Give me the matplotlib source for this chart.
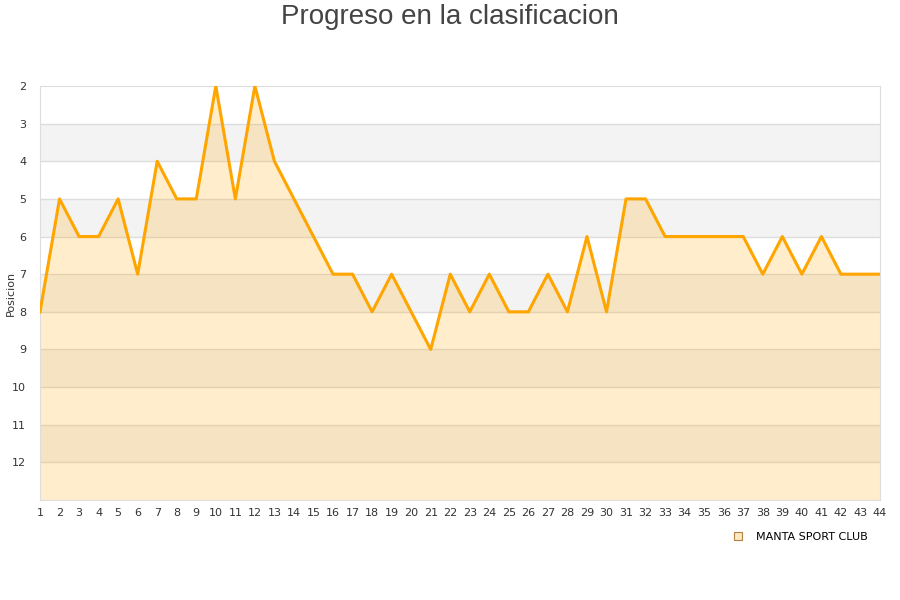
import matplotlib
matplotlib.use("Agg")
import matplotlib.pyplot as plt

jornadas = list(range(1, 45))
posiciones = [8, 5, 6, 6, 5, 7, 4, 5, 5, 2, 5, 2, 4, 5, 6, 7, 7, 8, 7, 8, 9, 7, 8, 7, 8, 8,
              7, 8, 6, 8, 5, 5, 6, 6, 6, 6, 6, 7, 6, 7, 6, 7, 7, 7]
y_ticks = list(range(2, 13))
equipo = "MANTA SPORT CLUB"
titulo = "Progreso en la clasificacion"

fig = plt.figure(figsize=(9, 6), dpi=100)
ax = fig.add_axes([40/900, 100/600, 840/900, 414/600])

ymin, ymax = 2, 13
# alternating bands
for k in range(ymin, ymax):
    if (k - ymin) % 2 == 1:
        ax.axhspan(k, k + 1, color="#f3f3f3", zorder=0, lw=0)
for k in range(ymin + 1, ymax):
    ax.axhline(k, color="#dddddd", lw=1, zorder=1)

ax.fill_between(jornadas, posiciones, ymax, color="#FFA500", alpha=0.2, lw=0, zorder=2)
ax.plot(jornadas, posiciones, color="#FFA500", lw=2.2, zorder=3)

ax.set_xlim(1, 44)
ax.set_ylim(ymax, ymin)
ax.set_xticks(jornadas)
ax.set_yticks(y_ticks)
ax.tick_params(axis="both", length=0, labelsize=8, colors="#333333", pad=6)
ax.tick_params(axis="y", pad=10)
for s in ax.spines.values():
    s.set_color("#dddddd")
ax.set_ylabel("Posicion", fontsize=8, color="#333333")
ax.yaxis.set_label_coords(-24/840, 0.5)

fig.text(0.5, 0.993, titulo, ha="center", va="top", fontsize=20, color="#444444",
         family="Liberation Sans")

handle = plt.Line2D([], [], marker="s", linestyle="none", markersize=6,
                    markerfacecolor="#fde8c4", markeredgecolor="#b08040", markeredgewidth=0.8)
fig.legend([handle], [equipo], loc="center right", bbox_to_anchor=(0.975, 0.105),
           frameon=False, fontsize=8, handletextpad=0.6)

fig.savefig("out.png", dpi=100)
